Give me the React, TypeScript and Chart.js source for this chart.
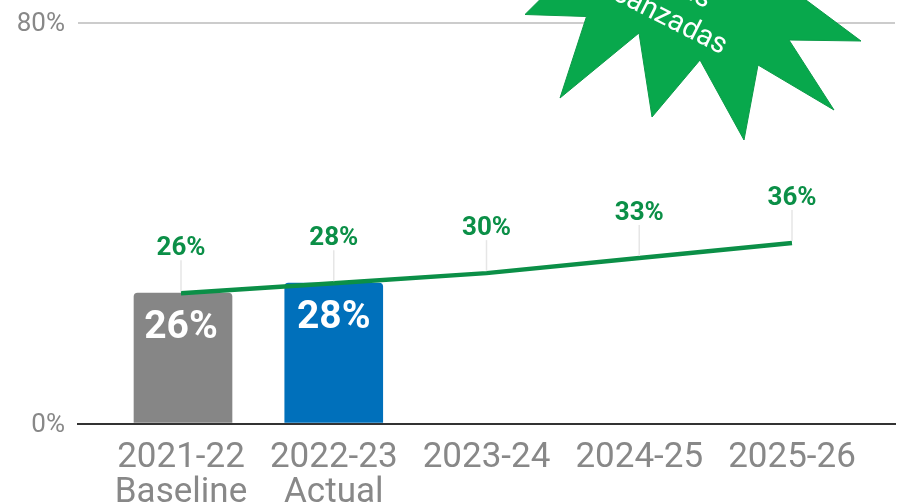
import React, { useEffect, useRef } from "react";
import { Chart, registerables } from "chart.js";

Chart.register(...registerables);

const categories = ["2021-22", "2022-23", "2023-24", "2024-25", "2025-26"];
const subLabels = ["Baseline", "Actual", "", "", ""];
const barValues = [26, 28];
const barColors = ["#868686", "#0070bb"];
const barNudges = [2, 0];
const targetValues = [26, 28, 30, 33, 36];
const targetLabels = ["26%", "28%", "30%", "33%", "36%"];
const yTicks = [0, 80];
const starPoints: [number, number][] = [
  [700, -95], [735, -60], [806, 0], [861, 41], [789, 40], [834, 110], [758, 65], [744, 140],
  [700, 60], [652, 117], [639, 33], [560, 98], [586.5, 16.5], [525, 14.5], [600, -60],
];
const starTextLines = ["Metas", "Alcanzadas"];

const FONT = "Roboto, sans-serif";
const GREEN = "#0b8f47";

const overlay = {
  id: "overlay",
  beforeDatasetsDraw(chart: any) {
    const meta = chart.getDatasetMeta(1);
    meta.data.forEach((el: any, i: number) => {
      el.x = chart.scales.x.getPixelForValue(i) + barNudges[i];
    });
  },
  afterDatasetsDraw(chart: any) {
    const { ctx, scales } = chart;
    const x = scales.x, y = scales.y;
    ctx.save();
    targetValues.forEach((v, i) => {
      const px = x.getPixelForValue(i);
      const py = y.getPixelForValue(v);
      ctx.strokeStyle = "#e6e6e6";
      ctx.lineWidth = 1.5;
      ctx.beginPath();
      ctx.moveTo(px, py - 2);
      ctx.lineTo(px, py - 33);
      ctx.stroke();
      ctx.fillStyle = GREEN;
      ctx.font = `bold 26px ${FONT}`;
      ctx.textAlign = "center";
      ctx.textBaseline = "middle";
      ctx.fillText(targetLabels[i], px, py - 44.5);
    });
    barValues.forEach((v, i) => {
      ctx.fillStyle = "#ffffff";
      ctx.font = `bold 39px ${FONT}`;
      ctx.textAlign = "center";
      ctx.textBaseline = "middle";
      ctx.fillText(`${v}%`, x.getPixelForValue(i), y.getPixelForValue(v) + 35);
    });
    ctx.restore();
  },
  afterDraw(chart: any) {
    const { ctx } = chart;
    ctx.save();
    ctx.beginPath();
    starPoints.forEach(([a, b], i) => (i ? ctx.lineTo(a, b) : ctx.moveTo(a, b)));
    ctx.closePath();
    ctx.fillStyle = "#08a84c";
    ctx.strokeStyle = "#0b9a48";
    ctx.lineWidth = 1;
    ctx.fill();
    ctx.stroke();
    ctx.translate(658, 14);
    ctx.rotate((27 * Math.PI) / 180);
    ctx.fillStyle = "#ffffff";
    ctx.font = `29px ${FONT}`;
    ctx.textAlign = "center";
    ctx.textBaseline = "middle";
    starTextLines.forEach((t, i) => ctx.fillText(t, 0, (i - 1) * 34));
    ctx.restore();
  },
};

export default function App() {
  const ref = useRef<HTMLCanvasElement>(null);
  useEffect(() => {
    document.body.style.margin = "0";
    const chart = new Chart(ref.current!, {
      type: "bar",
      data: {
        datasets: [
          {
            type: "line",
            data: targetValues.map((v, i) => ({ x: i, y: v })),
            borderColor: GREEN,
            borderWidth: 4.5,
            pointRadius: 0,
            tension: 0,
            order: 0,
          },
          {
            type: "bar",
            data: barValues.map((v, i) => ({ x: i, y: v })),
            backgroundColor: barColors,
            barThickness: 98,
            borderRadius: { topLeft: 4, topRight: 4, bottomLeft: 0, bottomRight: 0 },
            borderSkipped: false,
            order: 1,
          },
        ],
      } as any,
      options: {
        animation: false,
        responsive: false,
        layout: { padding: { left: 0, right: 3, top: 22.5, bottom: 0 } },
        plugins: { legend: { display: false }, tooltip: { enabled: false } },
        scales: {
          x: {
            type: "linear",
            offset: false,
            min: -103 / 152.75,
            max: 4 + 103 / 152.75,
            afterBuildTicks: (s: any) => {
              s.ticks = categories.map((_, i) => ({ value: i }));
            },
            afterFit: (s: any) => {
              s.height = 80.5;
              s.paddingLeft = 0;
              s.paddingRight = 0;
            },
            grid: { display: false, drawTicks: false, offset: false },
            border: { display: true, color: "#333333", width: 2 },
            ticks: {
              autoSkip: false,
              maxRotation: 0,
              padding: 18,
              color: "#888888",
              font: { family: FONT, size: 35, lineHeight: 0.98 },
              callback: (v: any) => {
                const i = Number(v);
                return subLabels[i] ? [categories[i], subLabels[i]] : categories[i];
              },
            },
          },
          y: {
            min: yTicks[0],
            max: yTicks[1],
            afterBuildTicks: (s: any) => {
              s.ticks = yTicks.map((value) => ({ value }));
            },
            afterFit: (s: any) => {
              s.width = 78;
              s.paddingTop = 0;
              s.paddingBottom = 0;
            },
            grid: { color: "#cccccc", lineWidth: 2, drawTicks: false },
            border: { display: false },
            ticks: {
              padding: 13,
              labelOffset: 1.5,
              color: "#888888",
              font: { family: FONT, size: 26 },
              callback: (v: any) => `${v}%`,
            },
          },
        },
      } as any,
      plugins: [overlay],
    });
    return () => chart.destroy();
  }, []);
  return <canvas ref={ref} width={898} height={504} style={{ display: "block" }} />;
}
